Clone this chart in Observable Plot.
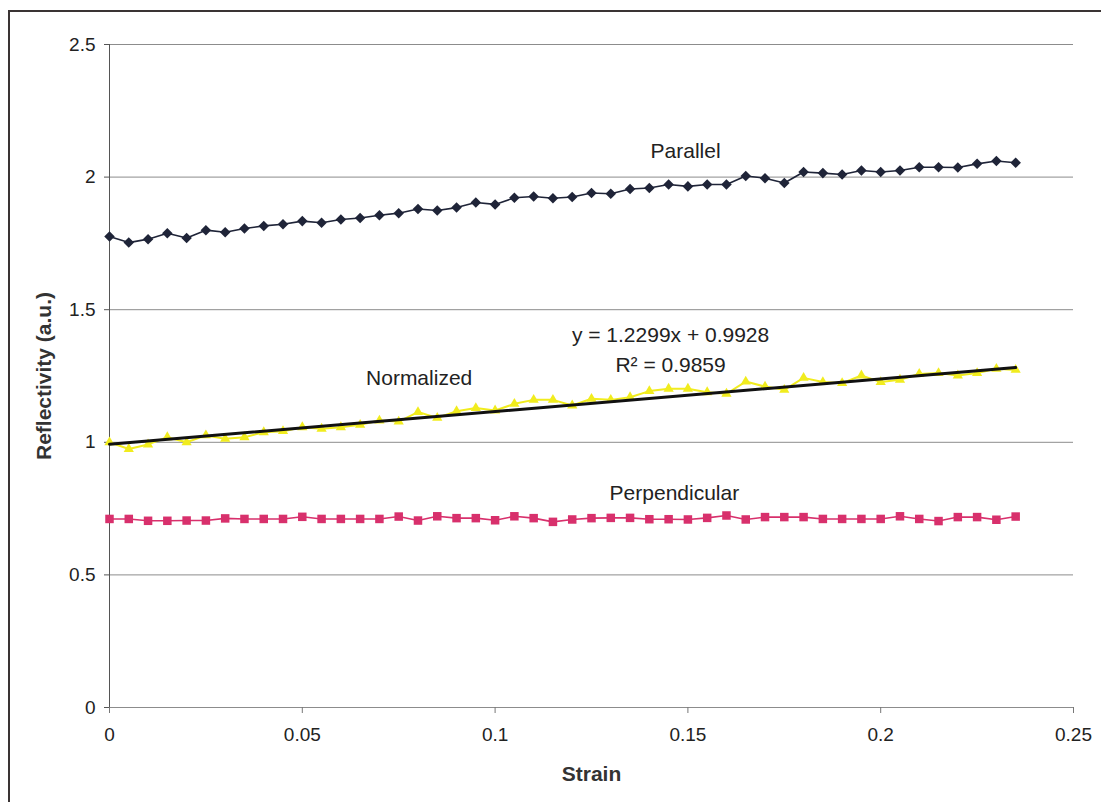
<!DOCTYPE html>
<html>
<head>
<meta charset="utf-8">
<script src="https://cdn.jsdelivr.net/npm/d3@7"></script>
<script src="https://cdn.jsdelivr.net/npm/@observablehq/plot@0.6"></script>
<style>
  html, body { margin: 0; padding: 0; background: #fff; }
  #wrap { position: relative; width: 1101px; height: 802px; overflow: hidden; }
  #frame { position: absolute; left: 8px; top: 10px; width: 1200px; height: 900px;
           border-left: 2px solid #3a3434; border-top: 2px solid #3a3434; pointer-events: none; }
  svg { display: block; }
</style>
</head>
<body>
<div id="wrap"><div id="frame"></div></div>
<script>
// Strain steps
const strain = [0, 0.005, 0.01, 0.015, 0.02, 0.025, 0.03, 0.035, 0.04, 0.045,
  0.05, 0.055, 0.06, 0.065, 0.07, 0.075, 0.08, 0.085, 0.09, 0.095,
  0.1, 0.105, 0.11, 0.115, 0.12, 0.125, 0.13, 0.135, 0.14, 0.145,
  0.15, 0.155, 0.16, 0.165, 0.17, 0.175, 0.18, 0.185, 0.19, 0.195,
  0.2, 0.205, 0.21, 0.215, 0.22, 0.225, 0.23, 0.235];

// Reflectivity, polarisation parallel to strain
const parallel = [1.776, 1.753, 1.766, 1.788, 1.770, 1.800, 1.792, 1.806, 1.816, 1.822,
  1.834, 1.828, 1.840, 1.846, 1.856, 1.864, 1.880, 1.874, 1.885, 1.904,
  1.897, 1.922, 1.927, 1.920, 1.925, 1.940, 1.937, 1.955, 1.959, 1.972,
  1.965, 1.972, 1.972, 2.004, 1.996, 1.978, 2.019, 2.015, 2.010, 2.025,
  2.019, 2.025, 2.037, 2.037, 2.036, 2.050, 2.061, 2.054];

// Reflectivity, polarisation perpendicular to strain
const perpendicular = [0.711, 0.711, 0.704, 0.704, 0.705, 0.705, 0.713, 0.711, 0.711, 0.711,
  0.719, 0.711, 0.711, 0.711, 0.711, 0.720, 0.705, 0.721, 0.714, 0.714,
  0.706, 0.721, 0.714, 0.700, 0.709, 0.714, 0.715, 0.715, 0.710, 0.710,
  0.709, 0.715, 0.724, 0.709, 0.718, 0.718, 0.718, 0.711, 0.711, 0.711,
  0.711, 0.721, 0.711, 0.703, 0.718, 0.718, 0.708, 0.720];

// Normalized reflectivity
const normalized = [1.000, 0.975, 0.992, 1.019, 1.000, 1.026, 1.013, 1.019, 1.038, 1.042,
  1.057, 1.051, 1.057, 1.066, 1.082, 1.078, 1.114, 1.092, 1.117, 1.129,
  1.120, 1.145, 1.160, 1.160, 1.139, 1.164, 1.160, 1.170, 1.193, 1.202,
  1.202, 1.189, 1.183, 1.229, 1.210, 1.198, 1.243, 1.227, 1.223, 1.252,
  1.227, 1.236, 1.258, 1.261, 1.252, 1.261, 1.277, 1.273];

// Linear fit of the normalized series
const fitSlope = 1.2299;
const fitIntercept = 0.9928;
const fitR2 = 0.9859;

const xTicks = [0, 0.05, 0.1, 0.15, 0.2, 0.25];
const yTicks = [0, 0.5, 1, 1.5, 2, 2.5];

const rows = strain.map((s, i) => ({
  strain: s, parallel: parallel[i], perpendicular: perpendicular[i], normalized: normalized[i]
}));
const fitLine = [strain[0], strain[strain.length - 1]].map(s => ({strain: s, value: fitSlope * s + fitIntercept}));

const labels = [
  {strain: 0.1494, value: 2.098, text: "Parallel"},
  {strain: 0.1455, value: 1.405, text: `y = ${fitSlope}x + ${fitIntercept}`},
  {strain: 0.1455, value: 1.292, text: `R² = ${fitR2}`},
  {strain: 0.0803, value: 1.241, text: "Normalized"},
  {strain: 0.1465, value: 0.807, text: "Perpendicular"}
];

const font = "'Liberation Sans', Arial, Helvetica, sans-serif";
const navy = "#1f2438";
const pink = "#d8306c";
const yellow = "#f1ec1e";

const chart = Plot.plot({
  width: 1101,
  height: 802,
  marginLeft: 109,
  marginRight: 28,
  marginTop: 44,
  marginBottom: 95,
  style: {fontFamily: font, fontSize: "19px", color: "#222", background: "transparent", overflow: "visible"},
  x: {domain: [0, 0.25], label: null},
  y: {domain: [0, 2.5], label: null},
  marks: [
    Plot.ruleY(yTicks, {stroke: "#8c8c8c", strokeWidth: 1}),
    Plot.ruleX([0], {stroke: "#555", strokeWidth: 1}),
    Plot.axisY(yTicks, {tickSize: 5, tickPadding: 9, stroke: "#555", tickFormat: d => String(d), fontSize: 19, fill: "#222"}),
    Plot.axisX(xTicks, {tickSize: 6, tickPadding: 14, stroke: "#777", tickFormat: d => String(d), fontSize: 19, fill: "#222"}),
    // Parallel
    Plot.line(rows, {x: "strain", y: "parallel", stroke: navy, strokeWidth: 1.6}),
    Plot.dot(rows, {x: "strain", y: "parallel", symbol: "square", rotate: 45, r: 4.2, fill: navy, stroke: "none"}),
    // Normalized
    Plot.line(rows, {x: "strain", y: "normalized", stroke: yellow, strokeWidth: 2}),
    Plot.dot(rows, {x: "strain", y: "normalized", symbol: "triangle", r: 3.8, fill: yellow, stroke: "none"}),
    // Perpendicular
    Plot.line(rows, {x: "strain", y: "perpendicular", stroke: pink, strokeWidth: 1.6}),
    Plot.dot(rows, {x: "strain", y: "perpendicular", symbol: "square", r: 4.8, fill: pink, stroke: "none"}),
    // Linear fit
    Plot.line(fitLine, {x: "strain", y: "value", stroke: "#111", strokeWidth: 3}),
    // Series and fit annotations
    Plot.text(labels, {x: "strain", y: "value", text: "text", fontSize: 21, fill: "#222", textAnchor: "middle", lineAnchor: "middle"}),
    // Axis titles
    Plot.text(["Strain"], {frameAnchor: "bottom", dy: 67, fontSize: 21, fontWeight: "bold", fill: "#333", textAnchor: "middle", lineAnchor: "middle"}),
    Plot.text(["Reflectivity (a.u.)"], {frameAnchor: "left", dx: -65, rotate: -90, fontSize: 21, fontWeight: "bold", fill: "#333", textAnchor: "middle", lineAnchor: "middle"})
  ]
});

document.getElementById("wrap").prepend(chart);
</script>
</body>
</html>
